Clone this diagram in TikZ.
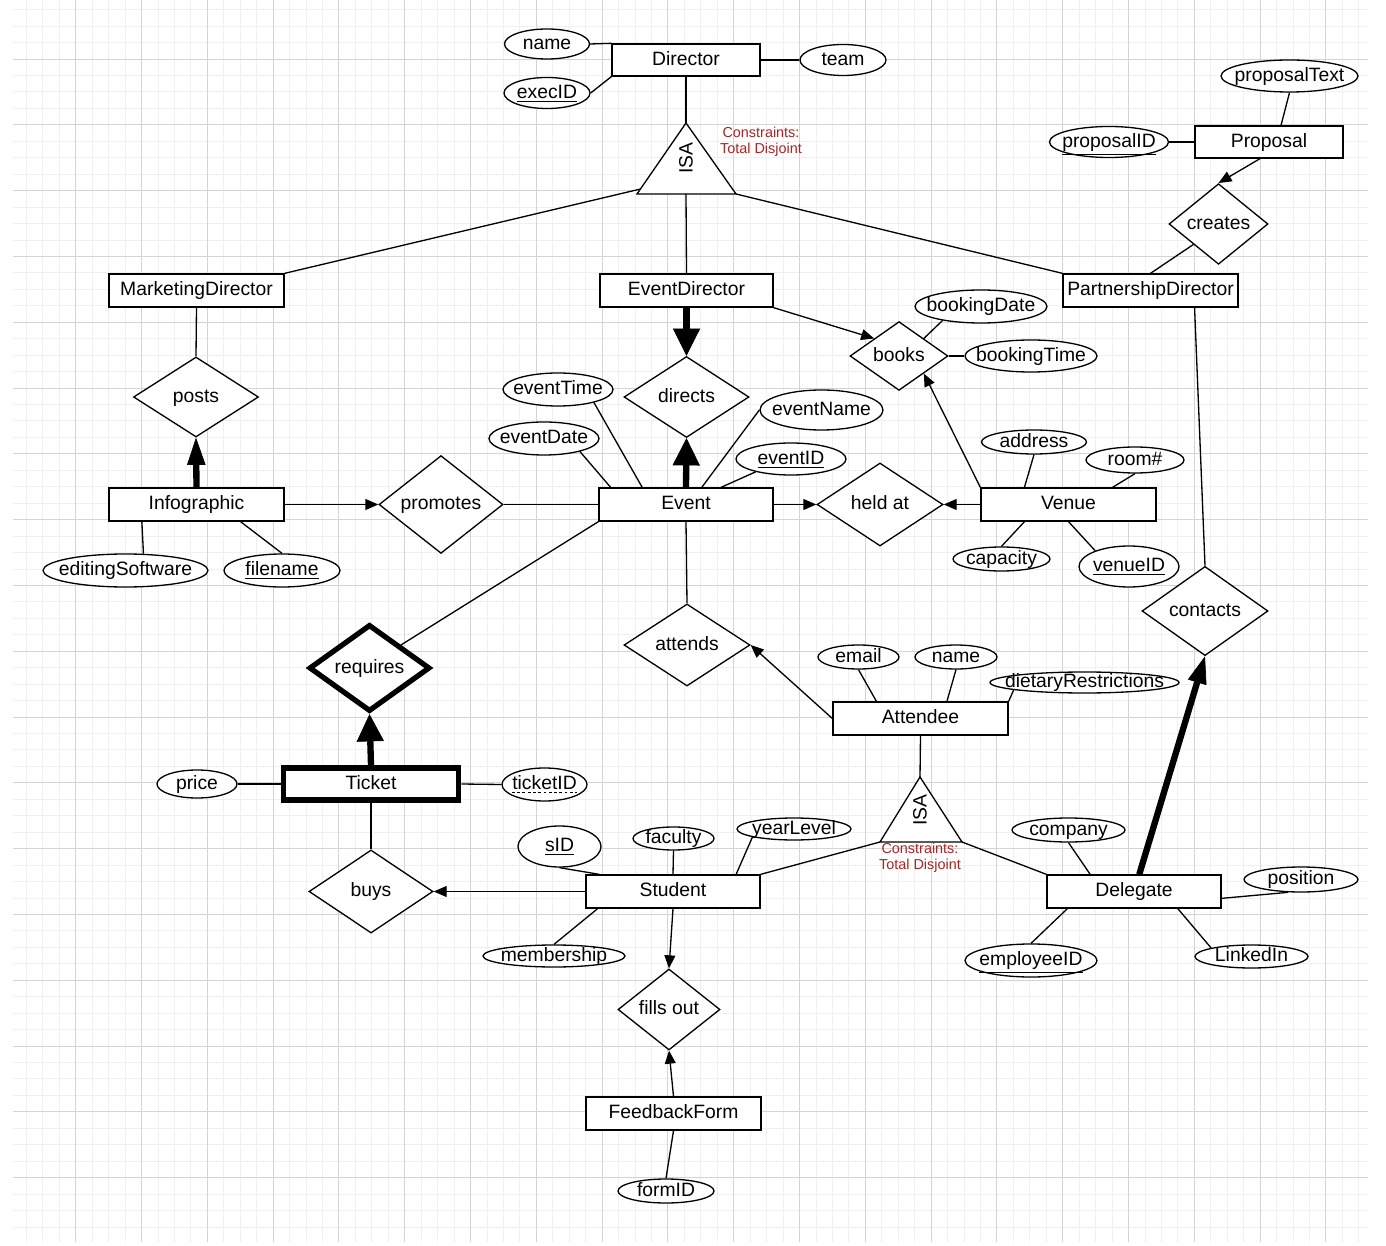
\documentclass[tikz,border=0pt]{standalone}
\usepackage{fontspec}
\setmainfont{Liberation Sans}
\usetikzlibrary{positioning,arrows.meta,calc,shapes.geometric}
\definecolor{cnstr}{RGB}{170,36,36}
\tikzset{
  txtbox/.style={text height=0.8em,text depth=0.18em},
  ent/.style={draw,fill=white,rectangle,line width=0.75pt,inner sep=0pt,txtbox,
    minimum width=3.5cm,minimum height=0.66cm},
  wkent/.style={ent,line width=3.2pt},   % weak entity
  rel/.style 2 args={diamond,draw,fill=white,line width=0.75pt,inner sep=0pt,txtbox,
    minimum width=#1*0.02cm,minimum height=#2*0.02cm},
  wkrel/.style 2 args={rel={#1}{#2},line width=3pt},  % identifying relationship
  oval/.style 2 args={ellipse,draw,fill=white,line width=0.75pt,inner sep=0pt,
    minimum width=#1*0.02cm,minimum height=#2*0.02cm},
  attr/.style n args={3}{oval={#1}{#2},label={[txtbox]center:#3}},
  conn/.style={line width=0.75pt},
  arr/.style={conn,-{Triangle[length=7.4pt,width=6.2pt]}},
  thk/.style={line width=3.6pt,-{Triangle[length=15.5pt,width=#1,line width=0.4pt]}},
  thk/.default=15.5pt,
  isatxt/.style={rotate=90},
  cnote/.style={text=cnstr,align=center,font=\fontsize{8.2}{9}\selectfont},
  mgrid/.style={black!17,line width=0.5pt},
  ngrid/.style={black!6,line width=0.5pt},
}

\begin{document}
\begin{tikzpicture}[x=0.02cm,y=-0.02cm,font=\fontsize{11}{13}\selectfont]
  \useasboundingbox (0,0) rectangle (1386,1246);
  \fill[white] (0,0) rectangle (1386,1246);
  % background grid
  \foreach \i in {-3,...,78}
    \draw[ngrid] ({75.7+16.45*\i},0) -- ({75.7+16.45*\i},1242);
  \foreach \i in {-3,...,71}
    \draw[ngrid] (13,{59+16.45*\i}) -- (1368,{59+16.45*\i});
  \foreach \i in {0,...,19}
    \draw[mgrid] ({75.7+65.8*\i},0) -- ({75.7+65.8*\i},1242);
  \foreach \i in {0,...,17}
    \draw[mgrid] (13,{59+65.8*\i}) -- (1368,{59+65.8*\i});

  % directors
  \node[ent,minimum width=2.96cm,minimum height=0.64cm] (dir) at (686,60) {Director};
  \node[attr={85}{30}{name}] (dname) at (547,44) {};
  \node[attr={86}{31}{\underline{execID}}] (dexec) at (547,93) {};
  \node[attr={86}{31}{team}] (team) at (843,60) {};
  \coordinate (isa1) at (686,123);
  \coordinate (isa1l) at (637,194);
  \coordinate (isa1r) at (736,194);
  \coordinate (isa1b) at (686,194);
  \draw[conn,fill=white] (isa1) -- (isa1l) -- (isa1r) -- cycle;
  \node[isatxt] (isa1t) at (686,158) {ISA};
  \node[cnote] (cn1) at (761,142) {Constraints:\\Total Disjoint};
  \node[ent] (md) at (196.5,290.5) {MarketingDirector};
  \node[ent,minimum width=3.46cm] (ed) at (686.5,290.5) {EventDirector};
  \node[ent] (pd) at (1150.5,290.5) {PartnershipDirector};

  % proposal
  \node[ent,minimum width=2.96cm,minimum height=0.64cm] (prop) at (1269,142) {Proposal};
  \node[attr={137}{32}{proposalText}] (ptext) at (1289.5,76) {};
  \node[attr={119}{31}{\underline{proposalID}}] (pid) at (1109,142) {};
  \node[rel={99}{65}] (cr) at (1218.5,224) {creates};

  % relationships under the directors
  \node[rel={125}{80}] (posts) at (196,397) {posts};
  \node[rel={125}{81}] (dirs) at (686.5,397) {directs};
  \node[rel={98}{66}] (books) at (899,356) {books};
  \node[attr={132}{33}{bookingDate}] (bdate) at (981,306.5) {};
  \node[attr={132}{32}{bookingTime}] (btime) at (1031,356) {};

  % infographic
  \node[ent] (info) at (196.5,504.5) {Infographic};
  \node[attr={165}{33}{editingSoftware}] (esw) at (125.5,570.5) {};
  \node[attr={116}{33}{\underline{filename}}] (fname) at (282,570.5) {};
  \node[rel={124}{83}] (prom) at (441,504.5) {promotes};

  % event
  \node[ent,minimum width=3.48cm] (ev) at (686,504.5) {Event};
  \node[attr={110}{33}{eventTime}] (etime) at (558,389.5) {};
  \node[attr={110}{33}{eventDate}] (edate) at (544,438.5) {};
  \node[attr={123}{40}{eventName}] (ename) at (821.5,410) {};
  \node[attr={110}{32}{\underline{eventID}}] (eid) at (791,459) {};

  % venue
  \node[rel={126}{83}] (held) at (880,504.5) {held at};
  \node[ent] (ven) at (1068.5,504.5) {Venue};
  \node[attr={105}{24}{address}] (addr) at (1034,442) {};
  \node[attr={98}{26}{room\#}] (room) at (1135,460) {};
  \node[attr={97}{24}{capacity}] (capa) at (1001.5,559) {};
  \node[attr={100}{41}{\underline{venueID}}] (vid) at (1129,566.5) {};

  \node[rel={126}{82}] (cont) at (1205,611) {contacts};
  \node[rel={126}{82}] (att) at (687,645) {attends};
  \node[wkrel={121}{80}] (req) at (369.5,668) {requires};

  % attendee
  \node[ent] (atd) at (920.5,718.5) {Attendee};
  \node[attr={81}{24}{email}] (email) at (858.5,657) {};
  \node[attr={82}{24}{name}] (aname) at (956,657) {};
  \node[attr={189}{21}{dietaryRestrictions}] (diet) at (1084.5,682.5) {};
  \coordinate (isa2) at (920,777);
  \coordinate (isa2l) at (880,842);
  \coordinate (isa2r) at (962,842);
  \draw[conn,fill=white] (isa2) -- (isa2l) -- (isa2r) -- cycle;
  \node[isatxt] (isa2t) at (920,810) {ISA};
  \node[cnote] (cn2) at (920,858) {Constraints:\\Total Disjoint};

  % ticket
  \node[wkent,minimum height=0.64cm] (tick) at (371,784) {Ticket};
  \node[attr={80}{28}{price}] (price) at (197,784) {};
  \node[oval={85}{33},label={[name=tidt,inner sep=0pt,txtbox]center:ticketID}] (tid) at (544.5,784.5) {};
  \draw[line width=0.5pt,dash pattern=on 1.6pt off 1.4pt]
    ([yshift=-1.6pt]tidt.base west) -- ([yshift=-1.6pt]tidt.base east);
  \node[rel={124}{83}] (buys) at (371,891.5) {buys};

  % student
  \node[ent,minimum width=3.48cm] (stu) at (673,891.5) {Student};
  \node[attr={83}{41}{\underline{sID}}] (sid) at (559.5,846.5) {};
  \node[attr={81}{23}{faculty}] (fac) at (673.5,838.5) {};
  \node[attr={114}{22}{yearLevel}] (yl) at (794,829) {};
  \node[attr={142}{22}{membership}] (mem) at (554,956) {};

  % delegate
  \node[ent,minimum width=3.48cm] (del) at (1134,891.5) {Delegate};
  \node[attr={113}{24}{company}] (comp) at (1068.5,830) {};
  \node[attr={132}{33}{\underline{employeeID}}] (emp) at (1031,960.5) {};
  \node[attr={114}{25}{position}] (posn) at (1301,879.5) {};
  \node[attr={113}{23}{LinkedIn}] (lin) at (1251.5,956.5) {};

  % feedback
  \node[rel={102}{81}] (fout) at (669,1009.5) {fills out};
  \node[ent] (ff) at (673.5,1113.5) {FeedbackForm};
  \node[attr={96}{24}{formID}] (fid) at (666,1191) {};

  % connectors
  \draw[conn] (dname.east) -- (dir.north west);
  \draw[conn] (dexec.east) -- (dir.south west);
  \draw[conn] (dir.east) -- (team.west);
  \draw[conn] (dir.south) -- (isa1);
  \draw[conn] ($(isa1l)!0.07!(isa1)$) -- (md.north east);
  \draw[conn] (isa1b) -- (ed.north);
  \draw[conn] (isa1r) -- (pd.north west);
  \draw[conn] (ptext.south) -- ($(prop.north)+(12,0)$);
  \draw[conn] (pid.east) -- (prop.west);
  \draw[arr] ($(prop.south)+(-9,0)$) -- (cr.north);
  \draw[conn] (cr.south west) -- (pd.north);
  \draw[conn] (md.south) -- (posts.north);
  \draw[thk=10.5pt] (info.north) -- (posts.south);
  \draw[thk] (ed.south) -- (dirs.north);
  \draw[thk] (ev.north) -- (dirs.south);
  \draw[arr] (ed.south east) -- (books.north west);
  \draw[arr] (ven.north west) -- (books.south east);
  \draw[conn] (bdate.200) -- (books.north east);
  \draw[conn] (books.east) -- (btime.west);
  \draw[conn] (etime.340) -- ($(ev.north west)!0.25!(ev.north east)$);
  \draw[conn] (edate.340) -- ($(ev.north west)!0.07!(ev.north east)$);
  \draw[conn] (ename.west) -- ($(ev.north west)!0.59!(ev.north east)$);
  \draw[conn] (eid.200) -- ($(ev.north west)!0.7!(ev.north east)$);
  \draw[arr] (info.east) -- (prom.west);
  \draw[conn] (prom.east) -- (ev.west);
  \draw[arr] (ev.east) -- (held.west);
  \draw[arr] (ven.west) -- (held.east);
  \draw[conn] (addr.south) -- ($(ven.north west)!0.25!(ven.north east)$);
  \draw[conn] (room.south) -- ($(ven.north west)!0.75!(ven.north east)$);
  \draw[conn] (capa.north) -- ($(ven.south west)!0.25!(ven.south east)$);
  \draw[conn] (vid.155) -- (ven.south);
  \draw[conn] ($(info.south west)!0.19!(info.south east)$) -- (esw.43);
  \draw[conn] ($(info.south west)!0.75!(info.south east)$) -- (fname.north);
  \draw[conn] ($(pd.south west)!0.75!(pd.south east)$) -- (cont.north);
  \draw[conn] (ev.south west) -- (req.north east);
  \draw[conn] (ev.south) -- (att.north);
  \draw[arr] (atd.west) -- (att.east);
  \draw[conn] (email.south) -- ($(atd.north west)!0.25!(atd.north east)$);
  \draw[conn] (aname.south) -- ($(atd.north west)!0.65!(atd.north east)$);
  \draw[conn] (diet.186) -- (atd.north east);
  \draw[conn] (atd.south) -- (isa2);
  \draw[conn] (isa2l) -- (stu.north east);
  \draw[conn] (isa2r) -- (del.north west);
  \draw[thk=11pt] ($(del.north west)!0.53!(del.north east)$) -- (cont.south);
  \draw[conn] (comp.south) -- ($(del.north west)!0.25!(del.north east)$);
  \draw[conn] (emp.north) -- ($(del.south west)!0.12!(del.south east)$);
  \draw[conn] (posn.225) -- ($(del.north east)!0.7!(del.south east)$);
  \draw[conn] (lin.168) -- ($(del.south west)!0.75!(del.south east)$);
  \draw[thk] (tick.north) -- (req.south);
  \draw[conn] (price.east) -- (tick.west);
  \draw[conn] (tick.east) -- (tid.west);
  \draw[conn] (tick.south) -- (buys.north);
  \draw[arr] (stu.west) -- (buys.east);
  \draw[conn] (sid.south) -- ($(stu.north west)!0.08!(stu.north east)$);
  \draw[conn] (fac.south) -- (stu.north);
  \draw[conn] (yl.191) -- ($(stu.north west)!0.86!(stu.north east)$);
  \draw[conn] (mem.north) -- ($(stu.south west)!0.07!(stu.south east)$);
  \draw[arr] (stu.south) -- (fout.north);
  \draw[arr] (ff.north) -- (fout.south);
  \draw[conn] (fid.north) -- (ff.south);
\end{tikzpicture}
\end{document}
